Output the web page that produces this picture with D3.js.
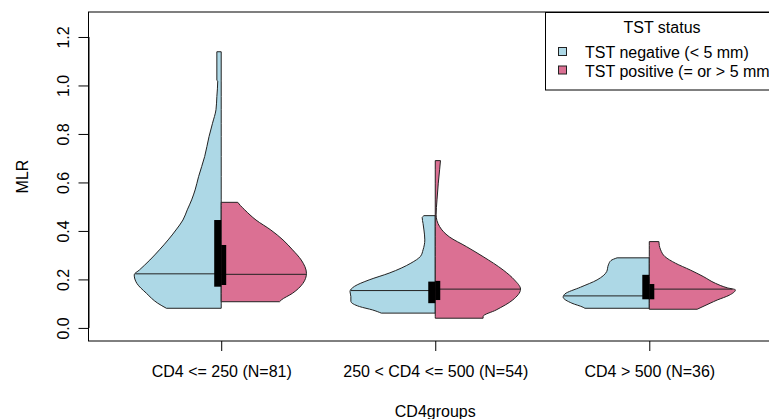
<!DOCTYPE html>
<html>
<head>
<meta charset="utf-8">
<script src="https://cdn.jsdelivr.net/npm/d3@7"></script>
<style>
  body { margin: 0; background: #fff; }
  svg { display: block; font-family: "Liberation Sans", Arial, sans-serif; }
</style>
</head>
<body>
<div class="canvas"></div>
<script>
// data
const groups = ['CD4 <= 250 (N=81)', '250 < CD4 <= 500 (N=54)', 'CD4 > 500 (N=36)'];
const statuses = ['TST negative (< 5 mm)', 'TST positive (= or > 5 mm)'];
const yTicks = [0, 0.2, 0.4, 0.6, 0.8, 1.0, 1.2];

// half-violin outlines: [MLR, relative density]
const negDensity = [
  [[1.139, 0.05], [1.022, 0.05], [1.018, 0.04], [0.954, 0.05], [0.900, 0.06], [0.844, 0.10],
   [0.789, 0.14], [0.707, 0.19], [0.624, 0.26], [0.569, 0.30], [0.528, 0.34], [0.487, 0.39],
   [0.445, 0.44], [0.404, 0.52], [0.363, 0.61], [0.322, 0.71], [0.280, 0.82], [0.239, 0.94],
   [0.219, 1.00], [0.184, 0.97], [0.143, 0.86], [0.102, 0.73], [0.081, 0.63]],
  [[0.463, 0.13], [0.455, 0.15], [0.430, 0.14], [0.404, 0.13], [0.363, 0.12], [0.322, 0.14],
   [0.295, 0.17], [0.267, 0.28], [0.226, 0.53], [0.198, 0.76], [0.171, 0.93], [0.150, 0.98],
   [0.129, 0.97], [0.110, 0.97], [0.088, 0.87], [0.074, 0.72], [0.061, 0.62]],
  [[0.289, 0.37], [0.278, 0.44], [0.260, 0.47], [0.232, 0.49], [0.198, 0.60], [0.168, 0.79],
   [0.140, 0.97], [0.127, 0.99], [0.102, 0.89], [0.085, 0.76], [0.081, 0.74]]
];
const posDensity = [
  [[0.518, 0.19], [0.505, 0.22], [0.487, 0.27], [0.445, 0.40], [0.404, 0.57], [0.363, 0.71],
   [0.322, 0.82], [0.280, 0.92], [0.225, 0.98], [0.184, 0.94], [0.143, 0.82], [0.115, 0.69],
   [0.108, 0.67]],
  [[0.690, 0.06], [0.652, 0.05], [0.597, 0.035], [0.528, 0.02], [0.466, 0.01], [0.418, 0.05],
   [0.376, 0.16], [0.335, 0.36], [0.294, 0.55], [0.239, 0.78], [0.198, 0.91], [0.160, 0.98],
   [0.115, 0.89], [0.074, 0.70], [0.047, 0.55], [0.040, 0.55]],
  [[0.356, 0.11], [0.340, 0.115], [0.322, 0.13], [0.294, 0.18], [0.267, 0.30], [0.239, 0.47],
   [0.212, 0.62], [0.184, 0.76], [0.165, 0.90], [0.157, 0.99], [0.135, 0.92], [0.115, 0.78],
   [0.102, 0.70], [0.077, 0.55]]
];
const negQuartiles = [[0.170, 0.445], [0.102, 0.191], [0.118, 0.219]];
const posQuartiles = [[0.177, 0.342], [0.115, 0.194], [0.118, 0.181]];
const negMedian = [0.223, 0.154, 0.132];
const posMedian = [0.221, 0.160, 0.160];

const colors = ['#ADD8E6', '#DB7093'];

const width = 769, height = 419;
const svg = d3.select('.canvas').append('svg')
    .attr('width', width)
    .attr('height', height);

// scales
const x = d3.scaleLinear().domain([0.38, 3.62]).range([88.5, 782]);
const y = d3.scaleLinear().domain([-0.054, 1.303]).range([341, 12]);
const w = d3.scaleLinear().domain([0, 1]).range([0, 87]);

function widthAt(arr, v) {
  const pts = arr.slice().sort((a, b) => a[0] - b[0]);
  for (let i = 1; i < pts.length; i++) {
    if (v <= pts[i][0]) {
      const t = (v - pts[i - 1][0]) / (pts[i][0] - pts[i - 1][0]);
      return pts[i - 1][1] + t * (pts[i][1] - pts[i - 1][1]);
    }
  }
  return pts[pts.length - 1][1];
}

// violins
groups.forEach((g, i) => {
  const cx = x(i + 1);
  const halves = [
    {dens: negDensity[i], q: negQuartiles[i], med: negMedian[i], dir: -1, col: colors[0], bw: 7},
    {dens: posDensity[i], q: posQuartiles[i], med: posMedian[i], dir: 1, col: colors[1], bw: 5}
  ];
  halves.forEach(h => {
    const area = d3.area()
        .y(d => y(d[0]))
        .x0(cx)
        .x1(d => cx + h.dir * w(d[1]))
        .curve(d3.curveMonotoneY);
    svg.append('path')
        .attr('d', area(h.dens))
        .attr('fill', h.col)
        .attr('stroke', '#222')
        .attr('stroke-width', 1);
  });
  halves.forEach(h => {
    svg.append('line')
        .attr('x1', cx)
        .attr('x2', cx + h.dir * w(widthAt(h.dens, h.med)))
        .attr('y1', y(h.med))
        .attr('y2', y(h.med))
        .attr('stroke', '#222')
        .attr('stroke-width', 1);
  });
  halves.forEach(h => {
    svg.append('rect')
        .attr('x', h.dir < 0 ? cx - h.bw : cx)
        .attr('width', h.bw)
        .attr('y', y(h.q[1]))
        .attr('height', y(h.q[0]) - y(h.q[1]))
        .attr('fill', '#000');
  });
});

// frame
svg.append('rect')
    .attr('x', x.range()[0])
    .attr('y', y.range()[1])
    .attr('width', x.range()[1] - x.range()[0])
    .attr('height', y.range()[0] - y.range()[1])
    .attr('fill', 'none')
    .attr('stroke', '#000')
    .attr('stroke-width', 1);

// y axis
const yAxis = svg.append('g')
    .attr('transform', `translate(${x.range()[0]},0)`)
    .call(d3.axisLeft(y).tickValues(yTicks).tickSize(10).tickSizeOuter(0).tickFormat(d3.format('.1f')));
yAxis.select('.domain')
    .attr('d', `M0,${y(0)}H0.5V${y(1.2)}H0`)
    .attr('stroke', '#000');
yAxis.selectAll('.tick line').attr('stroke', '#000');
yAxis.selectAll('.tick text')
    .attr('x', null).attr('dy', null)
    .attr('transform', 'translate(-20,0) rotate(-90)')
    .attr('text-anchor', 'middle')
    .attr('fill', '#000')
    .style('font-size', '16px')
    .style('font-family', '"Liberation Sans", Arial, sans-serif');

// x axis
const xAxis = svg.append('g')
    .attr('transform', `translate(0,${y.range()[0]})`)
    .call(d3.axisBottom(x).tickValues([1, 2, 3]).tickSize(10).tickSizeOuter(0).tickFormat((d, i) => groups[i]));
xAxis.select('.domain').remove();
xAxis.selectAll('.tick line').attr('stroke', '#000');
xAxis.selectAll('.tick text')
    .attr('y', 35.5).attr('dy', null)
    .attr('fill', '#000')
    .style('font-size', '16px')
    .style('font-family', '"Liberation Sans", Arial, sans-serif');

// axis titles
svg.append('text')
    .attr('x', (x.range()[0] + x.range()[1]) / 2)
    .attr('y', 416.5)
    .attr('text-anchor', 'middle')
    .style('font-size', '16px')
    .text('CD4groups');

svg.append('text')
    .attr('transform', `translate(28,${(y.range()[0] + y.range()[1]) / 2}) rotate(-90)`)
    .attr('text-anchor', 'middle')
    .style('font-size', '16px')
    .text('MLR');

// legend
const legend = svg.append('g');
legend.append('rect')
    .attr('x', 545.5).attr('y', 12.5)
    .attr('width', 240).attr('height', 77.5)
    .attr('fill', '#fff')
    .attr('stroke', '#000');
legend.append('text')
    .attr('x', 662).attr('y', 33)
    .attr('text-anchor', 'middle')
    .style('font-size', '16px')
    .text('TST status');
statuses.forEach((s, i) => {
  legend.append('rect')
      .attr('x', 558.5).attr('y', 47.5 + i * 18.5)
      .attr('width', 8).attr('height', 8)
      .attr('fill', colors[i])
      .attr('stroke', '#222');
  legend.append('text')
      .attr('x', 585).attr('y', 58 + i * 18.5)
      .style('font-size', '16px')
      .text(s);
});
</script>
</body>
</html>
